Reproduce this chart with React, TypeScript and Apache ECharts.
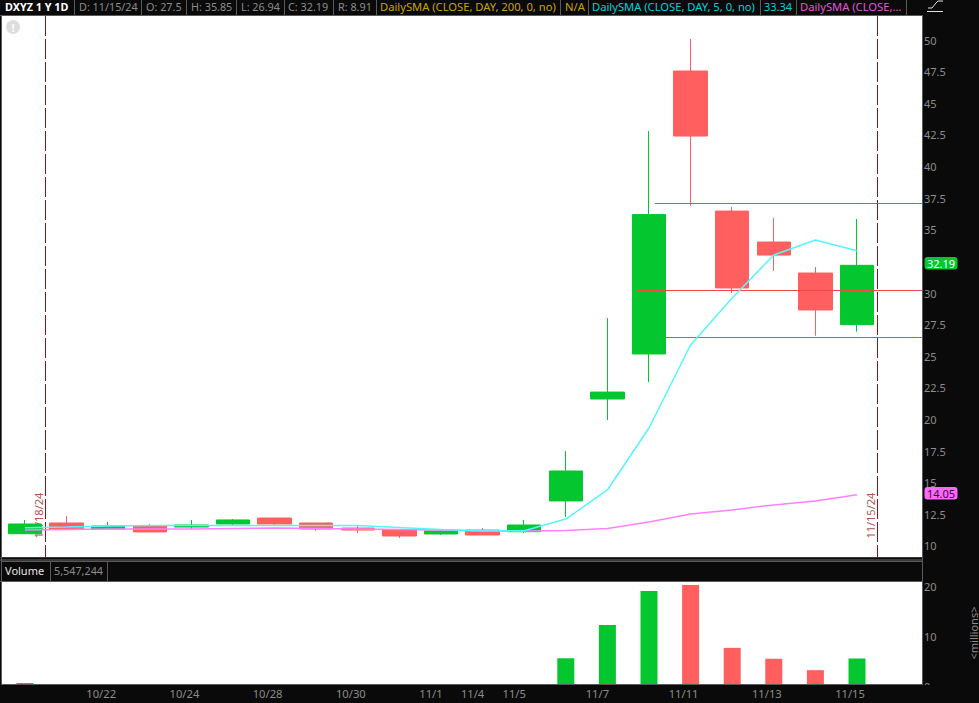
import React, { useEffect, useRef } from "react";
import * as echarts from "echarts";

const dates = ["10/18","10/21","10/22","10/23","10/24","10/25","10/28","10/29","10/30","10/31","11/1","11/4","11/5","11/6","11/7","11/8","11/11","11/12","11/13","11/14","11/15",""];
const shownDates = ["10/22","10/24","10/28","10/30","11/1","11/4","11/5","11/7","11/11","11/13","11/15"];
const opens =  [10.97,11.82,11.34,11.58,11.5,11.74,12.21,11.82,11.42,11.26,10.95,11.26,11.13,13.56,21.62,25.18,47.55,36.48,34.03,31.58,27.5];
const closes = [11.74,11.34,11.58,11.11,11.66,12.06,11.74,11.34,11.26,10.79,11.19,10.87,11.66,15.93,22.17,36.2,42.41,30.4,33.0,28.66,32.19];
const lows =   [10.95,11.26,11.3,11.11,11.34,11.66,11.66,11.19,11.03,10.63,10.87,10.87,11.03,12.29,19.96,22.96,36.88,30.0,31.74,26.62,26.94];
const highs =  [12.06,12.37,11.9,11.74,12.06,12.13,12.21,11.82,11.58,11.34,11.3,11.42,12.06,17.5,28.02,42.8,50.08,36.8,35.93,32.06,35.85];
const sma5 =   [11.45,11.5,11.58,11.62,11.62,11.62,11.62,11.62,11.62,11.46,11.3,11.19,11.2,12.13,14.43,19.33,25.89,29.6,33.0,34.19,33.34];
const smaLong = [11.26,11.3,11.34,11.34,11.34,11.38,11.42,11.38,11.34,11.3,11.26,11.19,11.19,11.23,11.38,11.9,12.53,12.85,13.25,13.55,14.05];
const volumes = [0.6,0.3,0.2,0.2,0.2,0.2,0.2,0.2,0.1,0.2,0.1,0.2,0.3,5.6,12.3,19.2,20.4,7.7,5.5,3.2,5.55];
const priceTicks = [10,12.5,15,17.5,20,22.5,25,27.5,30,35,37.5,40,42.5,45,47.5,50];
const volumeTicks = [0,10,20];
const eventLines = [[0,"10/18/24"],[20,"11/15/24"]];
const trendLines = [[15,0.14,37.09],[15,-0.29,30.24],[15,0.39,26.5]];

const GREEN = "#04c72f";
const RED = "#ff5f5f";
const GREY = "#8c8c8c";
const BLACK = "#0a0a0a";
const FONT = "'Noto Sans', sans-serif";
const LEFT = 4.2;
const PLOT_W = 915.2;

const headerItems: [string, number, string, string][] = [
  ["DXYZ 1 Y 1D", 5, "#ffffff", "bold 10.8px"],
  ["D: 11/15/24", 79, GREY, "10.8px"],
  ["O: 27.5", 146, GREY, "10.8px"],
  ["H: 35.85", 191, GREY, "10.8px"],
  ["L: 26.94", 241, GREY, "10.8px"],
  ["C: 32.19", 288, GREY, "10.8px"],
  ["R: 8.91", 338, GREY, "10.8px"],
  ["DailySMA (CLOSE, DAY, 200, 0, no)", 380, "#c9a400", "11.2px"],
  ["N/A", 565, "#c9a400", "11.2px"],
  ["DailySMA (CLOSE, DAY, 5, 0, no)", 592, "#00d0dc", "11.2px"],
  ["33.34", 764, "#00d0dc", "11px"],
  ["DailySMA (CLOSE,...", 800, "#e256d6", "11.2px"],
];
const headerSeps = [74.5,141.5,186.5,236.5,284.5,333.5,376.5,560.5,588.5,760.5,796.5,906.5];

function tag(text: string, y: number, fill: string, color: string) {
  return [
    { type: "rect", z: 20, shape: { x: 924.5, y: y - 6, width: 33, height: 12.5, r: 3 }, style: { fill } },
    { type: "text", z: 21, x: 941, y: y + 0.5, style: { text, fill: color, font: `11px ${FONT}`, align: "center", verticalAlign: "middle" } },
  ];
}

function buildGraphic() {
  const border = "#5a5a5a";
  const rule = (x1: number, y1: number, x2: number, y2: number) => ({ type: "line", z: 6, shape: { x1, y1, x2, y2 }, style: { stroke: border, lineWidth: 1 } });
  const els: any[] = [
    { type: "rect", z: -5, shape: { x: 2, y: 16, width: 920, height: 541 }, style: { fill: "#ffffff" } },
    { type: "rect", z: -5, shape: { x: 2, y: 582, width: 920, height: 103 }, style: { fill: "#ffffff" } },
    { type: "rect", z: 5, shape: { x: 0, y: 685, width: 979, height: 18 }, style: { fill: BLACK } },
    rule(2, 684.5, 922, 684.5),
    rule(0, 15.5, 922, 15.5),
    { type: "rect", z: 6, shape: { x: 0, y: 557, width: 922, height: 4 }, style: { fill: "#3a3a3a" } },
    { type: "line", z: 6, shape: { x1: 0, y1: 558.5, x2: 922, y2: 558.5 }, style: { stroke: BLACK, lineWidth: 1 } },
    rule(1.5, 561.5, 922, 561.5),
    rule(0, 581.5, 922, 581.5),
    rule(50.5, 561, 50.5, 581),
    rule(107.5, 561, 107.5, 581),
    rule(1.5, 15, 1.5, 685),
    rule(922.5, 15, 922.5, 685),
    { type: "text", z: 7, x: 5, y: 570.5, style: { text: "Volume", fill: "#e6e6e6", font: `11px ${FONT}`, verticalAlign: "middle" } },
    { type: "text", z: 7, x: 54, y: 570.5, style: { text: "5,547,244", fill: GREY, font: `10.8px ${FONT}`, verticalAlign: "middle" } },
    { type: "circle", z: 7, shape: { cx: 13, cy: 27, r: 7 }, style: { fill: "#dddddd" } },
    { type: "text", z: 8, x: 13, y: 27, style: { text: "!", fill: "#ffffff", font: `bold 11px ${FONT}`, align: "center", verticalAlign: "middle" } },
    { type: "polyline", z: 7, shape: { points: [[928,8],[932,8],[936,3],[938,1],[943,1]] }, style: { stroke: "#e0e0e0", lineWidth: 1, fill: "none" } },
    { type: "line", z: 7, shape: { x1: 927, y1: 11.5, x2: 943, y2: 11.5 }, style: { stroke: "#e0e0e0", lineWidth: 1 } },
    { type: "text", z: 7, x: 973, y: 633, rotation: Math.PI / 2, style: { text: "<millions>", fill: GREY, font: `11px ${FONT}`, align: "center", verticalAlign: "middle" } },
    ...tag("32.19", 263, GREEN, "#ffffff"),
    ...tag("14.05", 493, "#ff66ff", "#301030"),
  ];
  headerSeps.forEach((x) => els.push(rule(x, 0, x, 15)));
  headerItems.forEach(([text, x, fill, size]) =>
    els.push({ type: "text", z: 7, x, y: 6, style: { text, fill, font: `${size} ${FONT}`, verticalAlign: "middle" } })
  );
  return els;
}

export default function App() {
  const ref = useRef<HTMLDivElement>(null);
  useEffect(() => {
    document.body.style.margin = "0";
    document.body.style.background = BLACK;
    const chart = echarts.init(ref.current!, undefined, { renderer: "svg" });
    const shown = new Set(shownDates);
    chart.setOption({
      animation: false,
      backgroundColor: BLACK,
      textStyle: { fontFamily: FONT },
      graphic: { elements: buildGraphic() },
      grid: [
        { left: LEFT, top: 16, width: PLOT_W, height: 541 },
        { left: LEFT, top: 582, width: PLOT_W, height: 104 },
      ],
      xAxis: [
        { type: "category", gridIndex: 0, data: dates, show: false },
        {
          type: "category", gridIndex: 1, z: 10,
          data: dates.map((d) => ({ value: d, textStyle: { padding: [0, d.length === 4 ? 20 : 14, 0, 0] } })),
          axisLine: { show: false }, axisTick: { show: false },
          axisLabel: { color: GREY, fontSize: 11.2, margin: 0, verticalAlign: "top", lineHeight: 14, interval: (_: number, v: string) => shown.has(v) },
        },
      ],
      yAxis: [
        {
          type: "value", gridIndex: 0, position: "right", min: 9.13, max: 51.9, z: 1,
          axisLine: { show: false }, axisTick: { show: false }, splitLine: { show: false },
          axisLabel: { color: GREY, fontSize: 11, margin: 4.5, padding: [0, 0, 4, 0], customValues: priceTicks, formatter: (v: number) => String(v) },
        },
        {
          type: "value", gridIndex: 1, position: "right", min: 0, max: 21, z: 1,
          axisLine: { show: false }, axisTick: { show: false }, splitLine: { show: false },
          axisLabel: { color: GREY, fontSize: 11, margin: 4.5, padding: [0, 0, 2, 0], customValues: volumeTicks, formatter: (v: number) => String(v) },
        },
      ],
      series: [
        {
          type: "custom", xAxisIndex: 0, yAxisIndex: 0, z: 1, clip: false, silent: true,
          data: eventLines,
          encode: { x: 0 },
          renderItem: (params: any, api: any) => {
            const band = api.size([1, 0])[0];
            const x = Math.floor(api.coord([api.value(0), 30])[0] + band / 2) + 0.5;
            const sys = params.coordSys;
            const label = eventLines[params.dataIndex][1] as string;
            return {
              type: "group",
              children: [
                { type: "line", shape: { x1: x, y1: sys.y, x2: x, y2: sys.y + sys.height }, style: { stroke: "#8b1414", lineWidth: 1, lineDash: [20, 3] } },
                { type: "text", x: x - 7, y: api.coord([0, 12.4])[1], rotation: Math.PI / 2, style: { text: label, fill: "#b35555", font: `11px ${FONT}`, align: "center", verticalAlign: "middle" } },
              ],
            };
          },
        },
        {
          type: "candlestick", xAxisIndex: 0, yAxisIndex: 0, z: 2, barWidth: 34,
          itemStyle: { color: GREEN, color0: RED, borderColor: GREEN, borderColor0: RED, borderWidth: 1 },
          data: opens.map((o, i) => [o, closes[i], lows[i], highs[i]]),
        },
        {
          type: "custom", xAxisIndex: 0, yAxisIndex: 0, z: 3, clip: false, silent: true,
          data: trendLines,
          encode: { x: 0, y: 2 },
          renderItem: (params: any, api: any) => {
            const band = api.size([1, 0])[0];
            const p = api.coord([api.value(0), api.value(2)]);
            const sys = params.coordSys;
            const y = Math.round(p[1]) + 0.5;
            return { type: "line", shape: { x1: p[0] + api.value(1) * band, y1: y, x2: sys.x + sys.width + 2.6, y2: y }, style: { stroke: "#f04848", lineWidth: 1 } };
          },
        },
        {
          type: "line", xAxisIndex: 0, yAxisIndex: 0, z: 4, data: smaLong, symbol: "none",
          lineStyle: { color: "#ff80ff", width: 1.5 },
        },
        {
          type: "line", xAxisIndex: 0, yAxisIndex: 0, z: 4, data: sma5, symbol: "none",
          lineStyle: { color: "#55f5ff", width: 1.5 },
        },
        {
          type: "bar", xAxisIndex: 1, yAxisIndex: 1, barWidth: 17, z: 2,
          data: volumes.map((v, i) => ({ value: v, itemStyle: { color: closes[i] >= opens[i] ? GREEN : RED } })),
        },
      ],
    });
    return () => chart.dispose();
  }, []);
  return <div ref={ref} style={{ width: 979, height: 703 }} />;
}
